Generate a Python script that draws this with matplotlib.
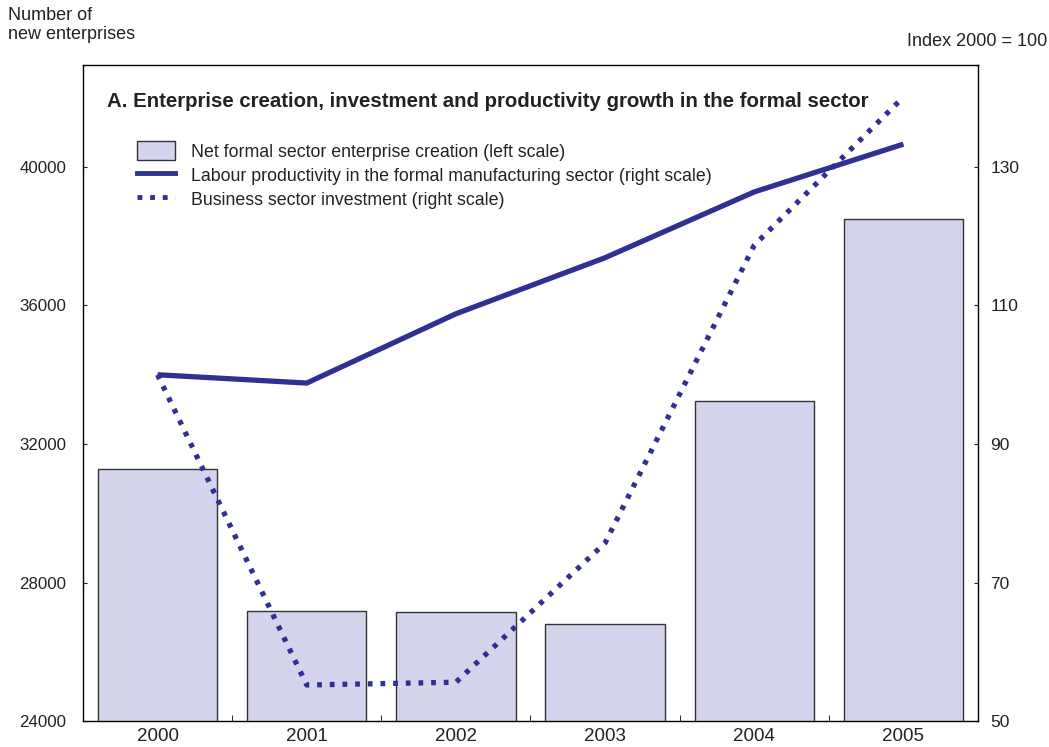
import numpy as np
import matplotlib as mpl
mpl.use('Agg')
import matplotlib.pyplot as plt
from matplotlib.patches import Patch
from matplotlib.lines import Line2D

plt.rcParams['font.family'] = ['Liberation Sans', 'DejaVu Sans']

years = ['2000', '2001', '2002', '2003', '2004', '2005']
enterprises = [31280, 27180, 27150, 26800, 33240, 38500]
productivity = [100.0, 98.8, 108.8, 116.9, 126.4, 133.3]
investment = [100.0, 55.2, 55.6, 75.7, 118.7, 140.1]

blue = '#2e3192'
bar_col = '#d4d4ec'
txt = '#222222'
dots = (0, (0.9, 1.5))

fig = plt.figure(figsize=(10.49, 7.47), dpi=100)
ax = fig.add_axes([0.0791, 0.0348, 0.8532, 0.8782])
x = np.arange(len(years))

ax.bar(x, enterprises, width=0.8, color=bar_col, edgecolor='#333333', linewidth=1.0, zorder=1)
ax.set_xlim(-0.5, 5.5)
ax.set_ylim(24000, 42946)
ax.set_yticks([24000, 28000, 32000, 36000, 40000])
ax.tick_params(axis='y', labelsize=12.2, length=3, direction='in', pad=12, colors=txt)
ax.set_xticks(x)
ax.set_xticklabels(years)
ax.tick_params(axis='x', which='major', length=0, labelsize=13.5, pad=5, colors=txt)
ax.set_xticks(x[:-1] + 0.5, minor=True)
ax.tick_params(axis='x', which='minor', length=4, direction='in')
for s in ax.spines.values():
    s.set_color('#333333')
    s.set_linewidth(1.0)

ax2 = ax.twinx()
ax2.plot(x, productivity, color=blue, linewidth=3.8, solid_capstyle='butt', zorder=3)
ax2.plot(x, investment, color=blue, linewidth=3.8, linestyle=dots, zorder=3)
ax2.set_ylim(50, 50 + (42946 - 24000) / 200)
ax2.set_yticks([50, 70, 90, 110, 130])
ax2.tick_params(axis='y', labelsize=12.5, length=3, direction='in', pad=9, colors=txt)
ax2.set_xlim(-0.5, 5.5)

fig.text(0.008, 0.99, 'Number of\nnew enterprises', ha='left', va='top', fontsize=13, color=txt, linespacing=1.15)
fig.text(0.998, 0.944, 'Index 2000 = 100', ha='right', va='center', fontsize=13, color=txt)

ax.text(0.027, 0.944, 'A. Enterprise creation, investment and productivity growth in the formal sector',
        transform=ax.transAxes, fontsize=14.7, fontweight='bold', ha='left', va='center', color=txt)

handles = [Patch(facecolor=bar_col, edgecolor='#333333', linewidth=1.0),
           Line2D([], [], color=blue, linewidth=3.5),
           Line2D([], [], color=blue, linewidth=3.5, linestyle=(0, (1.0, 1.6)))]
labels = ['Net formal sector enterprise creation (left scale)',
          'Labour productivity in the formal manufacturing sector (right scale)',
          'Business sector investment (right scale)']
ax2.legend(handles, labels, loc='upper left', bbox_to_anchor=(0.060, 0.884), frameon=False,
           fontsize=12.8, handlelength=2.13, handleheight=1.3, labelspacing=0.25, handletextpad=0.95,
           borderaxespad=0, borderpad=0, labelcolor=txt)

fig.savefig('out.png', dpi=100)
